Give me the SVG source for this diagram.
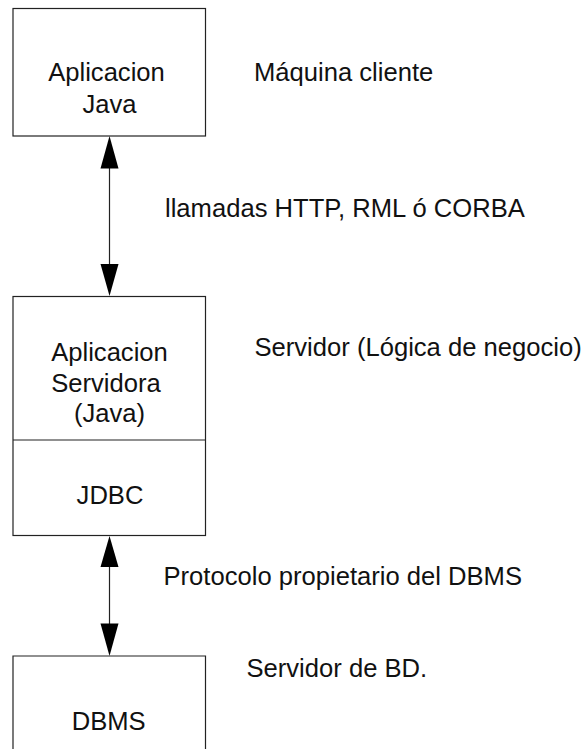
<svg xmlns="http://www.w3.org/2000/svg" width="586" height="749" viewBox="0 0 586 749">
<style>
.box{fill:#fff;stroke:#222;stroke-width:1.2}
.t{font-family:"Liberation Sans",Arial,sans-serif;font-size:25.6px;fill:#111}
.m{text-anchor:middle}
.ln{stroke:#222;stroke-width:1.2;fill:none}
.ah{fill:#000}
</style>
<rect width="586" height="749" fill="#fff"/>
<g id="cliente">
<rect class="box" x="13" y="8.5" width="192.5" height="127.5"/>
<text class="t m" x="106.5" y="81">Aplicacion</text>
<text class="t m" x="109.5" y="113">Java</text>
<text class="t" x="254" y="81">Máquina cliente</text>
</g>
<g id="servidor">
<rect class="box" x="13" y="296.5" width="192.5" height="239"/>
<line class="ln" x1="13" y1="440" x2="205.5" y2="440"/>
<text class="t m" x="109.5" y="361">Aplicacion</text>
<text class="t m" x="106" y="391.5">Servidora</text>
<text class="t m" x="109.5" y="422">(Java)</text>
<text class="t m" x="110" y="503.5">JDBC</text>
<text class="t" x="254.5" y="356">Servidor (Lógica de negocio)</text>
</g>
<g id="dbms">
<path class="ln" d="M13 749V656H205.5V749"/>
<text class="t m" x="108.7" y="729.5">DBMS</text>
<text class="t" x="246.5" y="677">Servidor de BD.</text>
</g>
<g id="connectors">
<line class="ln" x1="109.5" y1="150" x2="109.5" y2="282"/>
<polygon class="ah" points="109.5,136 100.5,168.5 118.5,168.5"/>
<polygon class="ah" points="109.5,296 100.5,264 118.5,264"/>
<text class="t" x="165" y="217">llamadas HTTP, RML ó CORBA</text>
<line class="ln" x1="109.5" y1="550" x2="109.5" y2="642"/>
<polygon class="ah" points="109.5,536 100.5,567 118.5,567"/>
<polygon class="ah" points="109.5,656 100.5,623.5 118.5,623.5"/>
<text class="t" x="163.5" y="585">Protocolo propietario del DBMS</text>
</g>
</svg>
